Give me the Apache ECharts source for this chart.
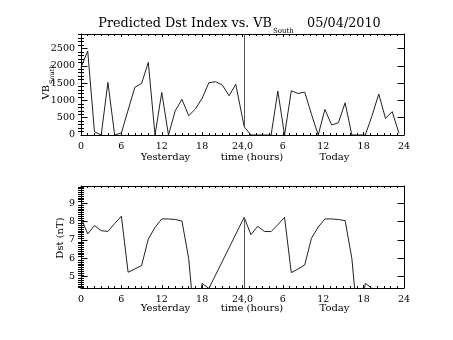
<!DOCTYPE html>
<html>
<head>
<meta charset="utf-8">
<script src="https://cdn.jsdelivr.net/npm/echarts@6/dist/echarts.min.js"></script>
<style>
  html, body { margin: 0; padding: 0; background: #fff; }
  #chart { width: 453px; height: 340px; }
</style>
</head>
<body>
<div id="chart"></div>
<script>
// Hourly samples: yesterday runs 0..23 h, today starts shortly after midnight
const hoursYesterday = [0, 1, 2, 3, 4, 5, 6, 7, 8, 9, 10, 11, 12, 13, 14, 15, 16, 17, 18, 19, 20, 21, 22, 23];
const todayStart = 24.25;

// VB South (top panel)
const vbYesterday = [1950, 2430, 95, 0, 1520, 0, 60, 720, 1380, 1490, 2100, 0, 1230, 0, 700, 1030, 560, 750, 1060, 1510, 1540, 1445, 1135, 1465];
const vbToday = [240, 0, 0, 0, 0, 1270, 0, 1280, 1200, 1240, 600, 0, 740, 290, 355, 930, 0, 0, 0, 560, 1185, 480, 675, 50];

// Predicted Dst (bottom panel), hours 0..19 of each day
const dstYesterday = [8.21, 7.33, 7.79, 7.51, 7.47, 7.9, 8.3, 5.24, 5.42, 5.6, 7.05, 7.69, 8.15, 8.15, 8.12, 8.04, 6.0, 2.0, 4.64, 4.35];
const dstToday = [8.24, 7.29, 7.75, 7.47, 7.46, 7.84, 8.24, 5.22, 5.42, 5.64, 7.1, 7.71, 8.15, 8.15, 8.12, 8.06, 6.0, 2.0, 4.64, 4.35];

// Axis ticks and ranges
const xTickLabels = ['0', '6', '12', '18', '24,0', '6', '12', '18', '24'];
const vbTicks = [0, 500, 1000, 1500, 2000, 2500];
const dstTicks = [5, 6, 7, 8, 9];
const vbRange = [0, 2920];
const dstRange = [4.38, 9.95];

function minorSteps(lo, hi, step, majors) {
  const out = [];
  const n = Math.round((hi - lo) / step);
  for (let i = 0; i <= n; i++) {
    const v = +(lo + i * step).toFixed(4);
    if (!majors.some(m => Math.abs(m - v) < 1e-6)) out.push(v);
  }
  return out;
}
const vbMinor = minorSteps(100, 2900, 100, vbTicks);
const dstMinor = minorSteps(4.4, 9.9, 0.1, dstTicks);

const FONT = 'DejaVu Serif';
const INK = '#000';

function xAxes(gridIndex) {
  const base = {
    type: 'value', gridIndex, min: 0, max: 48, interval: 6,
    splitLine: { show: false },
    axisLine: { show: true, onZero: false, lineStyle: { color: INK, width: 1 } },
    axisTick: { show: true, inside: true, length: 3, lineStyle: { color: INK } },
    minorTick: { show: true, splitNumber: 6, length: 2, lineStyle: { color: INK } }
  };
  return [
    Object.assign({}, base, {
      position: 'bottom',
      axisLabel: {
        show: true, margin: 7, color: INK, fontFamily: FONT, fontSize: 9.5,
        formatter: v => xTickLabels[Math.round(v / 6)]
      }
    }),
    Object.assign({}, base, { position: 'top', axisLabel: { show: false } })
  ];
}

function yAxes(gridIndex, range, majors, minors, labelFmt) {
  const common = {
    type: 'value', gridIndex, min: range[0], max: range[1],
    splitLine: { show: false }
  };
  const major = pos => Object.assign({}, common, {
    position: pos,
    axisLine: { show: true, onZero: false, lineStyle: { color: INK, width: 1 } },
    axisTick: { show: true, inside: true, length: 6.5, customValues: majors, lineStyle: { color: INK } },
    axisLabel: pos === 'left'
      ? { show: true, customValues: majors, margin: 6, color: INK, fontFamily: FONT, fontSize: 9.5, formatter: labelFmt }
      : { show: false }
  });
  const minor = pos => Object.assign({}, common, {
    position: pos,
    axisLine: { show: false },
    axisTick: { show: true, inside: true, length: 3, customValues: minors, lineStyle: { color: INK } },
    axisLabel: { show: false }
  });
  return [major('left'), minor('left'), major('right'), minor('right')];
}

const vbPoints = hoursYesterday.map((h, i) => [h, vbYesterday[i]])
  .concat(vbToday.map((v, i) => [todayStart + i, v]));
const dstPoints = dstYesterday.map((v, i) => [hoursYesterday[i], v])
  .concat(dstToday.map((v, i) => [todayStart + i, v]));

const chart = echarts.init(document.getElementById('chart'), null, { renderer: 'canvas' });

const textStyle = (text, size, align) => ({
  text, font: size + 'px "DejaVu Serif"', fill: INK,
  textAlign: align, textVerticalAlign: 'middle', verticalAlign: 'middle'
});

chart.setOption({
  animation: false,
  backgroundColor: '#fff',
  grid: [
    { left: 81, top: 34, width: 323, height: 101, containLabel: false, outerBoundsMode: 'none' },
    { left: 81, top: 186, width: 323, height: 102, containLabel: false, outerBoundsMode: 'none' }
  ],
  xAxis: xAxes(0).concat(xAxes(1)),
  yAxis: yAxes(0, vbRange, vbTicks, vbMinor, v => String(v))
    .concat(yAxes(1, dstRange, dstTicks, dstMinor, v => String(v))),
  series: [
    {
      type: 'line', xAxisIndex: 0, yAxisIndex: 0, data: vbPoints,
      symbol: 'none', clip: true,
      lineStyle: { color: '#222', width: 1 },
      markLine: {
        silent: true, symbol: 'none', label: { show: false },
        lineStyle: { color: '#555', width: 1, type: 'solid' },
        data: [[{ coord: [todayStart, vbToday[0]] }, { coord: [todayStart, vbRange[1]] }]]
      }
    },
    {
      type: 'line', xAxisIndex: 2, yAxisIndex: 4, data: dstPoints,
      symbol: 'none', clip: true,
      lineStyle: { color: '#222', width: 1 },
      markLine: {
        silent: true, symbol: 'none', label: { show: false },
        lineStyle: { color: '#555', width: 1, type: 'solid' },
        data: [[{ coord: [todayStart, dstToday[0]] }, { coord: [todayStart, dstRange[0]] }]]
      }
    }
  ],
  graphic: [
    // Title with subscript
    { type: 'text', x: 272, y: 24, style: textStyle('Predicted Dst Index vs. VB', 12.8, 'right') },
    { type: 'text', x: 273, y: 31, style: textStyle('South', 7, 'left') },
    { type: 'text', x: 307, y: 24, style: textStyle('05/04/2010', 12.8, 'left') },
    // Top y-axis name: VB with subscript South
    {
      type: 'group', x: 46, y: 85, rotation: Math.PI / 2,
      children: [
        { type: 'text', x: 0, y: 0, style: textStyle('VB', 10, 'right') },
        { type: 'text', x: 1, y: 6, style: textStyle('South', 6.5, 'left') }
      ]
    },
    // Bottom y-axis name
    {
      type: 'group', x: 60, y: 238, rotation: Math.PI / 2,
      children: [
        { type: 'text', x: 0, y: 0, style: textStyle('Dst (nT)', 10, 'center') }
      ]
    },
    // x-axis titles, top panel
    { type: 'text', x: 165.5, y: 157, style: textStyle('Yesterday', 10, 'center') },
    { type: 'text', x: 252, y: 157, style: textStyle('time (hours)', 10, 'center') },
    { type: 'text', x: 334.5, y: 157, style: textStyle('Today', 10, 'center') },
    // x-axis titles, bottom panel
    { type: 'text', x: 165.5, y: 308, style: textStyle('Yesterday', 10, 'center') },
    { type: 'text', x: 252, y: 308, style: textStyle('time (hours)', 10, 'center') },
    { type: 'text', x: 334.5, y: 308, style: textStyle('Today', 10, 'center') }
  ]
});
</script>
</body>
</html>
